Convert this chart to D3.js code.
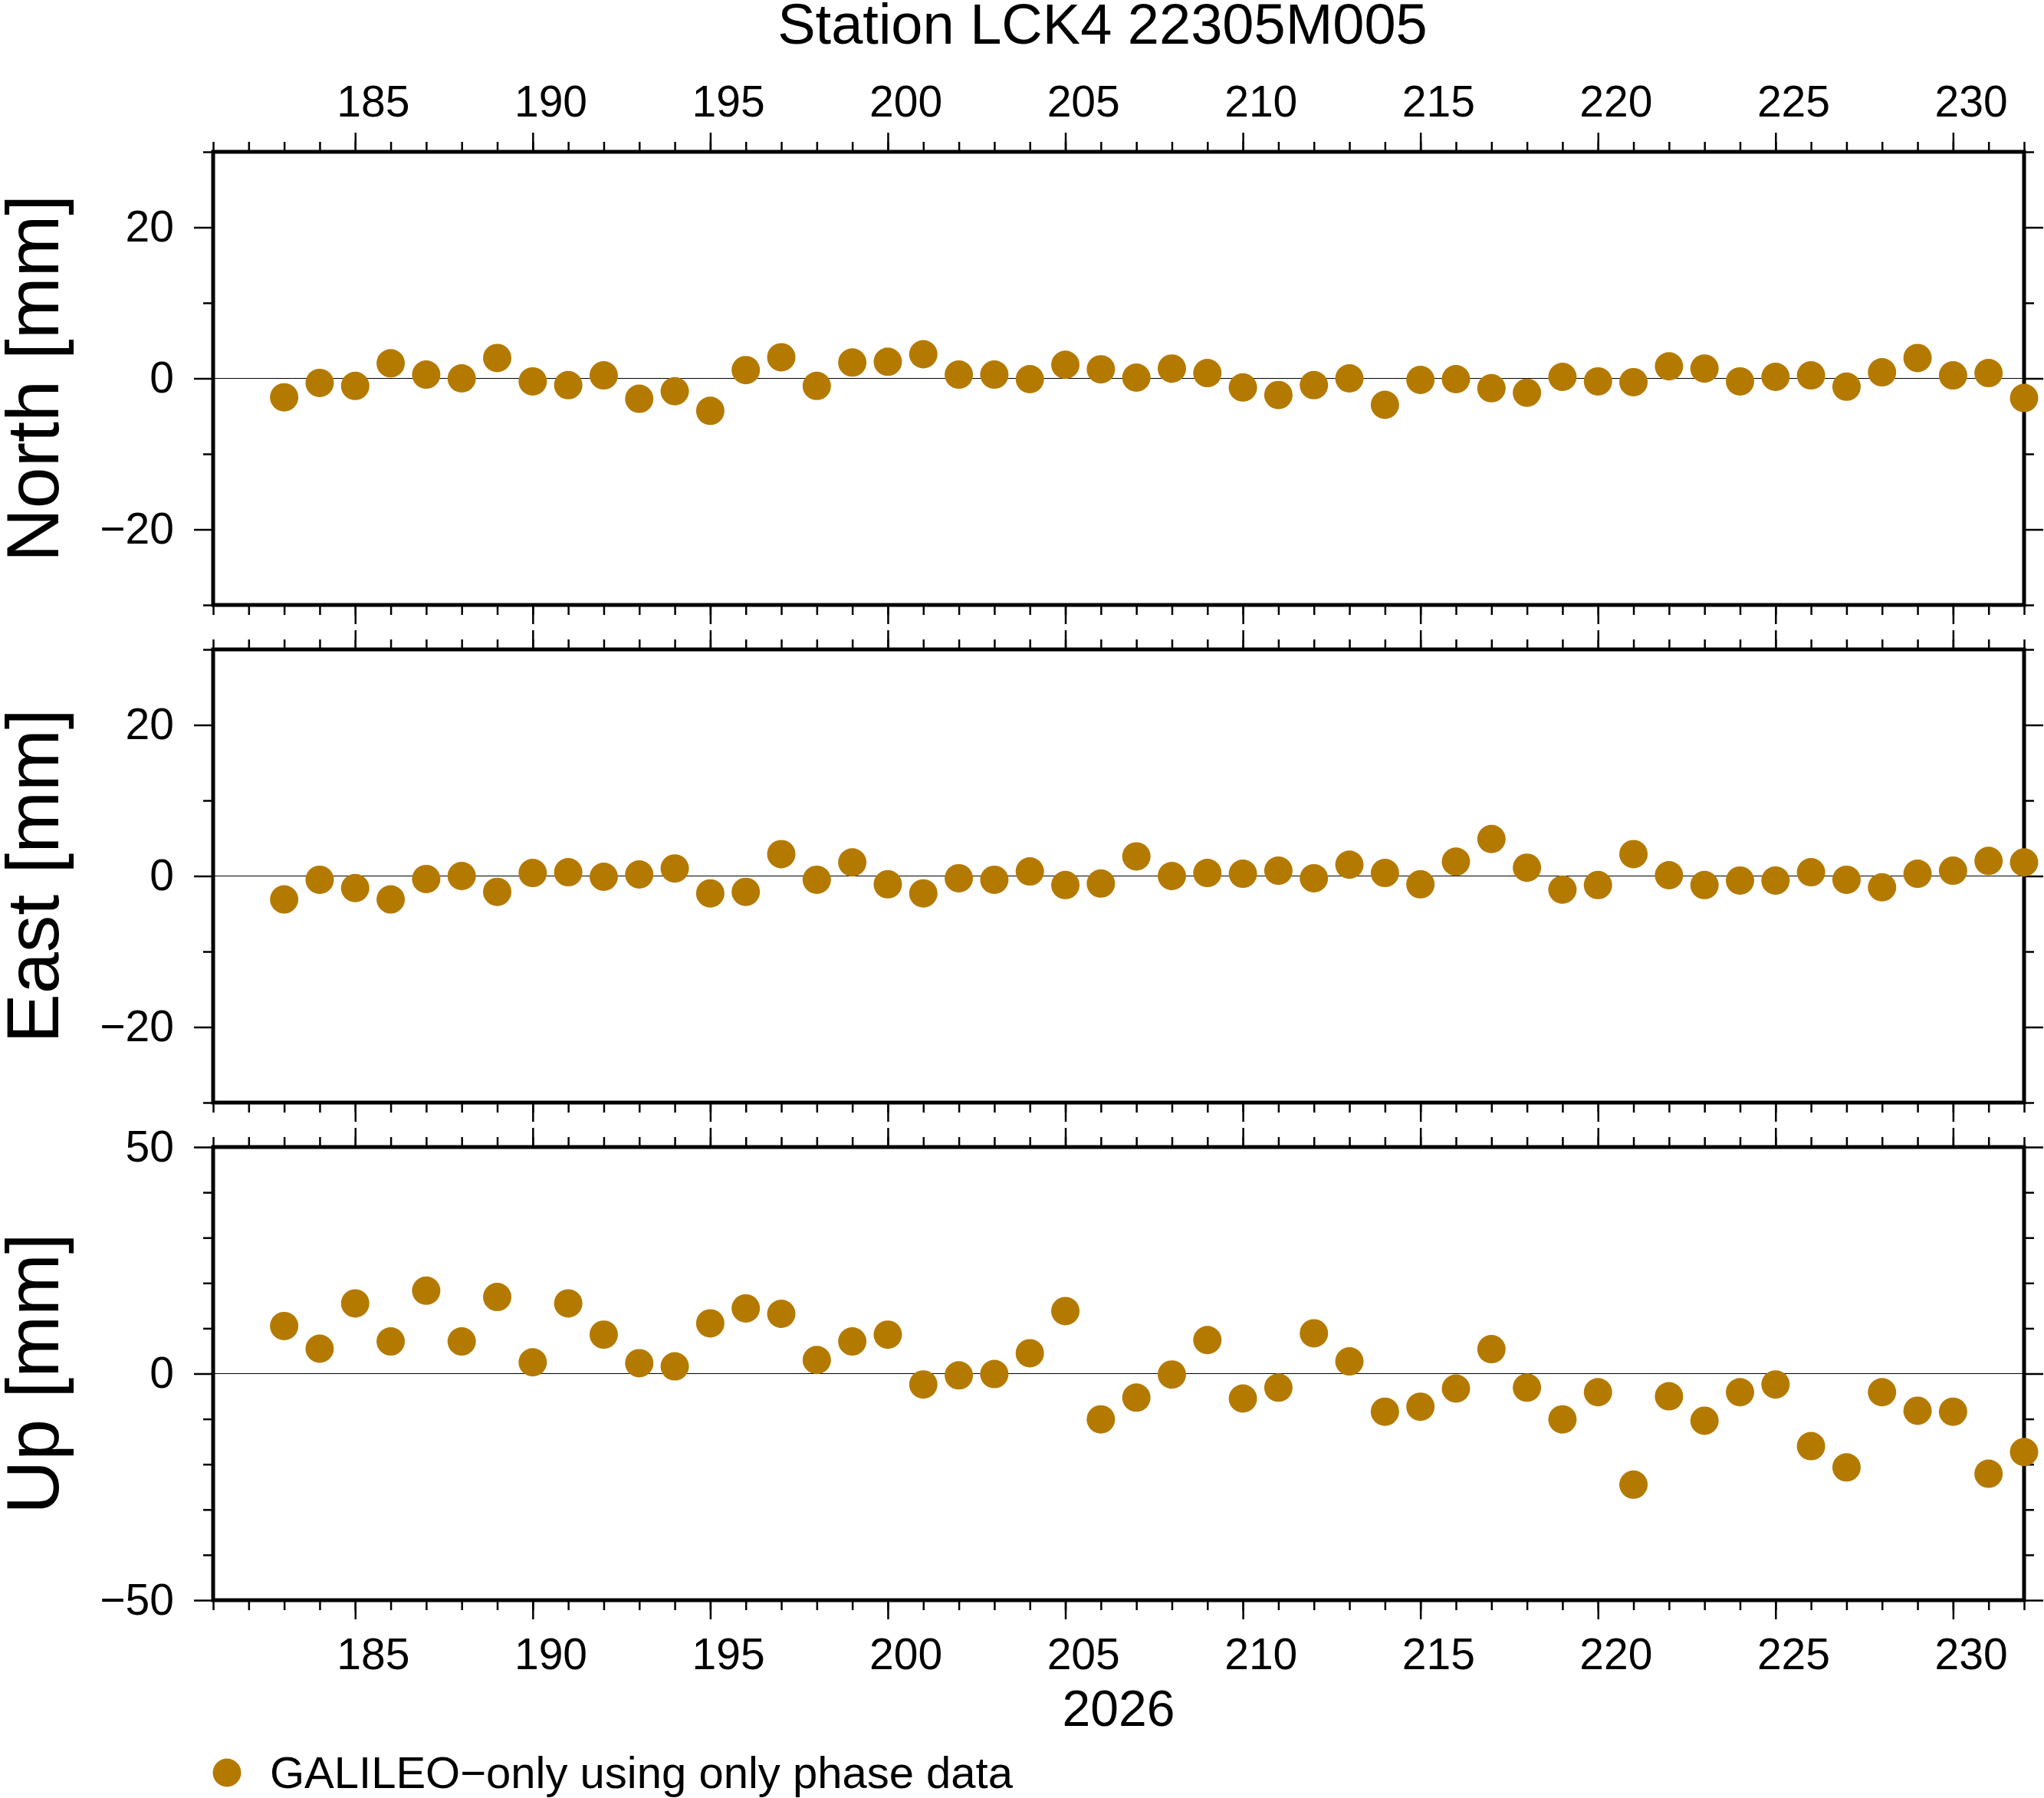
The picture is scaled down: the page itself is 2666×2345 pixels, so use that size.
<!DOCTYPE html>
<html>
<head>
<meta charset="utf-8">
<script src="https://cdn.jsdelivr.net/npm/d3@7/dist/d3.min.js"></script>
<style>
  html, body { margin: 0; padding: 0; background: #fff; }
  svg { display: block; font-family: "Liberation Sans", Arial, Helvetica, sans-serif; }
</style>
</head>
<body>
<svg id="chart" width="2666" height="2345"></svg>
<script>
// ---- data (day of year 2026) ----
const days = d3.range(183, 233);
const northValues = [-2.5, -0.6, -1.0, 2.0, 0.5, 0.0, 2.7, -0.4, -0.9, 0.4,
  -2.7, -1.7, -4.3, 1.1, 2.8, -1.0, 2.1, 2.2, 3.2, 0.5,
  0.5, -0.1, 1.8, 1.2, 0.1, 1.3, 0.7, -1.2, -2.2, -0.9,
  0.0, -3.5, -0.2, -0.1, -1.3, -1.9, 0.2, -0.4, -0.5, 1.6,
  1.3, -0.4, 0.2, 0.4, -1.1, 0.8, 2.7, 0.4, 0.7, -2.6];
const eastValues = [-3.1, -0.5, -1.6, -3.1, -0.4, 0.0, -2.1, 0.4, 0.5, -0.1,
  0.2, 1.0, -2.3, -2.1, 2.9, -0.5, 1.8, -1.1, -2.3, -0.3,
  -0.5, 0.6, -1.2, -1.0, 2.6, 0.0, 0.4, 0.3, 0.7, -0.3,
  1.5, 0.4, -1.1, 1.9, 4.9, 1.1, -1.8, -1.2, 2.9, 0.1,
  -1.2, -0.6, -0.6, 0.5, -0.5, -1.5, 0.3, 0.7, 2.0, 1.8];
const upValues = [10.5, 5.5, 15.5, 7.1, 18.3, 7.1, 16.9, 2.5, 15.5, 8.6,
  2.3, 1.6, 11.1, 14.4, 13.2, 3.0, 7.1, 8.6, -2.4, -0.4,
  -0.1, 4.5, 13.8, -10.1, -5.3, -0.2, 7.4, -5.5, -3.1, 8.9,
  2.7, -8.4, -7.3, -3.3, 5.4, -3.1, -10.1, -4.1, -24.5, -5.0,
  -10.4, -4.1, -2.4, -16.0, -20.7, -4.1, -8.2, -8.4, -22.1, -17.3];

const xDomain = [181, 232];
const xMajorTicks = d3.range(185, 231, 5);
const xMinorTicks = d3.range(181, 233, 1);

const panels = [
  { name: "North [mm]", values: northValues, domain: [-30, 30], major: [-20, 0, 20], minor: [-30, -10, 10, 30] },
  { name: "East [mm]",  values: eastValues,  domain: [-30, 30], major: [-20, 0, 20], minor: [-30, -10, 10, 30] },
  { name: "Up [mm]",    values: upValues,    domain: [-50, 50], major: [-50, 0, 50], minor: [-40, -30, -20, -10, 10, 20, 30, 40] }
];

const titleText = "Station LCK4 22305M005";
const yearLabel = "2026";
const legendLabel = "GALILEO\u2212only using only phase data";
const markerColor = "#b47a00";

// ---- layout ----
const left = 278, right = 2640;
const panelTops = [198, 847, 1496];
const panelH = 591;
const majorLen = 25, minorLen = 13;
const tickFont = 57;

const svg = d3.select("#chart");
const x = d3.scaleLinear().domain(xDomain).range([left, right]);
const halfDay = (x(1) - x(0)) / 2;   // day labels are centred on the day interval
const fmt = d => String(d).replace("-", "\u2212");

function styleAxis(g, showText, shiftX) {
  g.select(".domain").remove();
  g.selectAll(".tick line").attr("stroke", "#000").attr("stroke-width", 2.5);
  g.selectAll(".tick text").attr("fill", "#000").style("font-size", tickFont + "px")
    .style("font-family", '"Liberation Sans", Arial, Helvetica, sans-serif');
  if (shiftX) g.selectAll(".tick text").attr("dx", shiftX);
  if (!showText) g.selectAll(".tick text").remove();
}

panels.forEach((p, i) => {
  const top = panelTops[i], bottom = top + panelH;
  const y = d3.scaleLinear().domain(p.domain).range([bottom, top]);

  // x axes: top and bottom
  const topMajor = d3.axisTop(x).tickValues(xMajorTicks).tickSize(majorLen).tickPadding(21).tickSizeOuter(0).tickFormat(fmt);
  const topMinor = d3.axisTop(x).tickValues(xMinorTicks).tickSize(minorLen).tickSizeOuter(0).tickFormat("");
  const botMajor = d3.axisBottom(x).tickValues(xMajorTicks).tickSize(majorLen).tickPadding(25).tickSizeOuter(0).tickFormat(fmt);
  const botMinor = d3.axisBottom(x).tickValues(xMinorTicks).tickSize(minorLen).tickSizeOuter(0).tickFormat("");

  svg.append("g").attr("transform", `translate(0,${top})`).call(topMinor).call(g => styleAxis(g, false));
  svg.append("g").attr("transform", `translate(0,${top})`).call(topMajor).call(g => styleAxis(g, i === 0, halfDay));
  svg.append("g").attr("transform", `translate(0,${bottom})`).call(botMinor).call(g => styleAxis(g, false));
  svg.append("g").attr("transform", `translate(0,${bottom})`).call(botMajor).call(g => styleAxis(g, i === 2, halfDay));

  // y axes: left and right
  const lMajor = d3.axisLeft(y).tickValues(p.major).tickSize(majorLen).tickPadding(26).tickSizeOuter(0).tickFormat(fmt);
  const lMinor = d3.axisLeft(y).tickValues(p.minor).tickSize(minorLen).tickSizeOuter(0).tickFormat("");
  const rMajor = d3.axisRight(y).tickValues(p.major).tickSize(majorLen).tickSizeOuter(0).tickFormat("");
  const rMinor = d3.axisRight(y).tickValues(p.minor).tickSize(minorLen).tickSizeOuter(0).tickFormat("");

  svg.append("g").attr("transform", `translate(${left},0)`).call(lMinor).call(g => styleAxis(g, false));
  svg.append("g").attr("transform", `translate(${left},0)`).call(lMajor).call(g => styleAxis(g, true));
  svg.append("g").attr("transform", `translate(${right},0)`).call(rMinor).call(g => styleAxis(g, false));
  svg.append("g").attr("transform", `translate(${right},0)`).call(rMajor).call(g => styleAxis(g, false));

  // zero line
  svg.append("line")
    .attr("x1", left).attr("x2", right)
    .attr("y1", y(0)).attr("y2", y(0))
    .attr("stroke", "#000").attr("stroke-width", 1.2);

  // frame
  svg.append("rect")
    .attr("x", left).attr("y", top)
    .attr("width", right - left).attr("height", panelH)
    .attr("fill", "none").attr("stroke", "#000").attr("stroke-width", 5);

  // markers
  svg.append("g").selectAll("circle")
    .data(days.map((d, k) => ({ d, v: p.values[k] })))
    .join("circle")
    .attr("cx", o => x(o.d))
    .attr("cy", o => y(o.v))
    .attr("r", 18.5)
    .attr("fill", markerColor);

  // y label
  svg.append("text")
    .attr("transform", `translate(76,${(top + bottom) / 2}) rotate(-90)`)
    .attr("text-anchor", "middle")
    .style("font-size", "97px")
    .attr("fill", "#000")
    .text(p.name);
});

// title
svg.append("text")
  .attr("x", 1438).attr("y", 57)
  .attr("text-anchor", "middle")
  .style("font-size", "74px")
  .text(titleText);

// year label
svg.append("text")
  .attr("x", (left + right) / 2).attr("y", 2251)
  .attr("text-anchor", "middle")
  .style("font-size", "66px")
  .text(yearLabel);

// legend
svg.append("circle")
  .attr("cx", 296).attr("cy", 2312).attr("r", 18.5)
  .attr("fill", markerColor);
svg.append("text")
  .attr("x", 352).attr("y", 2332)
  .style("font-size", "58px")
  .text(legendLabel);
</script>
</body>
</html>
